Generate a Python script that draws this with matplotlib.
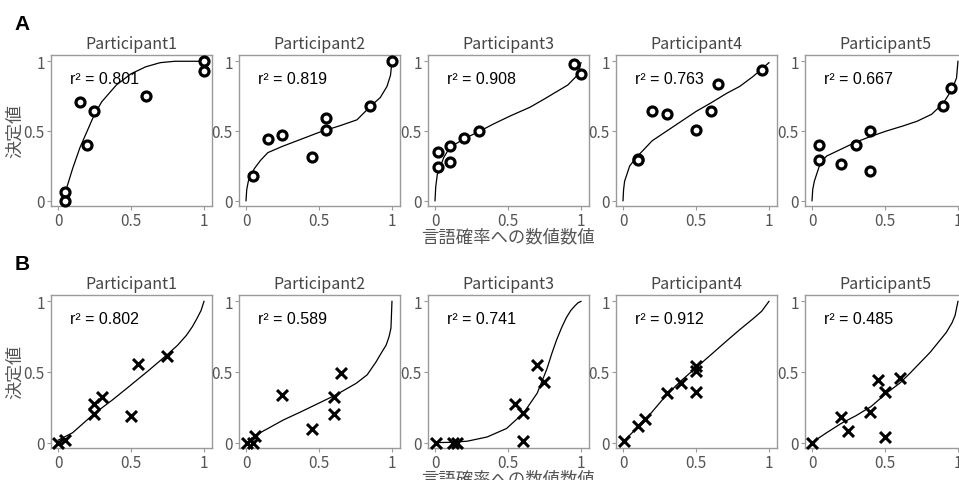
import matplotlib
matplotlib.use("Agg")
import matplotlib.pyplot as plt

plt.rcParams["font.family"] = ["Noto Sans CJK JP", "DejaVu Sans"]

participants = ["Participant1", "Participant2", "Participant3", "Participant4", "Participant5"]

# row A: open circles
a_x = [
    [0.05, 0.05, 0.15, 0.25, 0.2, 0.6, 1.0, 1.0],
    [0.05, 0.15, 0.25, 0.45, 0.55, 0.55, 0.85, 1.0],
    [0.02, 0.02, 0.1, 0.1, 0.2, 0.3, 0.95, 1.0],
    [0.1, 0.1, 0.2, 0.3, 0.5, 0.6, 0.65, 0.95],
    [0.05, 0.05, 0.2, 0.3, 0.4, 0.4, 0.9, 0.95],
]
a_y = [
    [0.06, 0.0, 0.71, 0.64, 0.40, 0.75, 1.0, 0.93],
    [0.18, 0.44, 0.47, 0.31, 0.59, 0.51, 0.68, 1.0],
    [0.35, 0.24, 0.39, 0.28, 0.45, 0.50, 0.98, 0.91],
    [0.30, 0.29, 0.64, 0.62, 0.51, 0.64, 0.84, 0.94],
    [0.40, 0.29, 0.26, 0.40, 0.50, 0.21, 0.68, 0.81],
]
a_r2 = ["0.801", "0.819", "0.908", "0.763", "0.667"]

# fitted curves, row A
a_cx = [
    [0.03, 0.05, 0.1, 0.15, 0.2, 0.25, 0.3, 0.4, 0.5, 0.6, 0.7, 0.8, 0.9, 1.0],
    [0.0, 0.005, 0.016, 0.057, 0.1, 0.15, 0.25, 0.35, 0.5, 0.65, 0.76, 0.856, 0.92, 0.966, 0.99, 1.0],
    [0.0, 0.005, 0.016, 0.06, 0.1, 0.2, 0.3, 0.4, 0.52, 0.65, 0.75, 0.91, 0.98, 1.0],
    [0.0, 0.004, 0.011, 0.046, 0.1, 0.2, 0.3, 0.4, 0.5, 0.6, 0.71, 0.8, 0.89, 1.0],
    [0.0, 0.005, 0.016, 0.057, 0.1, 0.2, 0.3, 0.4, 0.51, 0.62, 0.72, 0.82, 0.9, 0.96, 0.99, 1.0],
]
a_cy = [
    [0.0, 0.06, 0.23, 0.38, 0.50, 0.62, 0.71, 0.83, 0.91, 0.96, 0.99, 1.0, 1.0, 1.0],
    [0.0, 0.08, 0.14, 0.23, 0.29, 0.345, 0.39, 0.43, 0.49, 0.54, 0.58, 0.68, 0.74, 0.82, 0.9, 1.0],
    [0.0, 0.1, 0.19, 0.31, 0.38, 0.445, 0.495, 0.55, 0.61, 0.67, 0.73, 0.83, 0.905, 0.99],
    [0.0, 0.08, 0.14, 0.25, 0.32, 0.43, 0.5, 0.57, 0.64, 0.70, 0.77, 0.82, 0.89, 0.99],
    [0.0, 0.08, 0.14, 0.27, 0.32, 0.37, 0.42, 0.46, 0.5, 0.535, 0.57, 0.62, 0.70, 0.80, 0.88, 1.0],
]

# row B: crosses
b_x = [
    [0.0, 0.05, 0.25, 0.25, 0.3, 0.5, 0.55, 0.75],
    [0.01, 0.05, 0.06, 0.25, 0.45, 0.6, 0.6, 0.65],
    [0.01, 0.12, 0.15, 0.6, 0.55, 0.6, 0.7, 0.75],
    [0.01, 0.1, 0.15, 0.3, 0.4, 0.5, 0.5, 0.5],
    [0.0, 0.2, 0.25, 0.4, 0.45, 0.5, 0.6, 0.5],
]
b_y = [
    [0.0, 0.02, 0.27, 0.20, 0.32, 0.19, 0.56, 0.61],
    [0.0, 0.0, 0.05, 0.34, 0.10, 0.20, 0.32, 0.49],
    [0.0, 0.0, 0.0, 0.01, 0.27, 0.21, 0.55, 0.43],
    [0.01, 0.12, 0.17, 0.35, 0.42, 0.54, 0.51, 0.36],
    [0.0, 0.18, 0.08, 0.22, 0.44, 0.36, 0.46, 0.04],
]
b_r2 = ["0.802", "0.589", "0.741", "0.912", "0.485"]

b_cx = [
    [0.0, 0.1, 0.25, 0.37, 0.49, 0.62, 0.745, 0.82, 0.88, 0.92, 0.95, 0.98, 1.0],
    [0.016, 0.06, 0.15, 0.255, 0.38, 0.5, 0.62, 0.755, 0.83, 0.89, 0.93, 0.96, 0.98, 0.993, 1.0],
    [0.0, 0.1, 0.22, 0.357, 0.49, 0.607, 0.70, 0.766, 0.8, 0.834, 0.87, 0.9, 0.93, 0.96, 0.98, 1.0],
    [0.011, 0.16, 0.3, 0.4, 0.5, 0.6, 0.71, 0.8, 0.89, 0.95, 1.0],
    [0.023, 0.1, 0.2, 0.3, 0.404, 0.51, 0.6, 0.67, 0.81, 0.92, 0.96, 0.98, 1.0],
]
b_cy = [
    [0.017, 0.07, 0.207, 0.30, 0.40, 0.51, 0.62, 0.69, 0.76, 0.82, 0.875, 0.935, 1.0],
    [0.0, 0.05, 0.1, 0.16, 0.22, 0.28, 0.34, 0.42, 0.48, 0.57, 0.64, 0.69, 0.75, 0.81, 1.0],
    [0.0, 0.002, 0.01, 0.04, 0.10, 0.21, 0.35, 0.52, 0.63, 0.73, 0.82, 0.885, 0.935, 0.97, 0.99, 1.0],
    [0.017, 0.17, 0.34, 0.44, 0.53, 0.62, 0.72, 0.80, 0.876, 0.93, 1.0],
    [0.017, 0.07, 0.136, 0.19, 0.255, 0.35, 0.42, 0.49, 0.64, 0.78, 0.85, 0.9, 1.0],
]

W, H = 959, 481
fig = plt.figure(figsize=(W / 100, H / 100), dpi=100)

lefts = [51, 239, 428, 616, 805]
axw = 161
rows = [(56, 207), (296, 449)]

grey = "#555555"
frame = "#9a9a9a"


def setup(ax, title, r2):
    ax.set_xlim(-0.048, 1.055)
    ax.set_ylim(-0.038, 1.045)
    ax.set_xticks([0, 0.5, 1])
    ax.set_xticklabels(["0", "0.5", "1"])
    ax.set_yticks([0, 0.5, 1])
    ax.set_yticklabels(["0", "0.5", "1"])
    ax.tick_params(colors=frame, labelcolor=grey, labelsize=11, length=3, width=0.8, pad=1.5)
    for s in ax.spines.values():
        s.set_color(frame)
        s.set_linewidth(1.0)
    ax.set_title(title, fontsize=11.5, color="#444444", pad=5)
    ax.text(0.08, 0.88, "r² = " + r2, fontsize=11.5, color="black",
            family=["Liberation Sans"], va="center", ha="left")


for row, (top, bot) in enumerate(rows):
    for i in range(5):
        ax = fig.add_axes([lefts[i] / W, 1 - bot / H, axw / W, (bot - top) / H])
        if row == 0:
            ax.plot(a_cx[i], a_cy[i], color="black", lw=0.9, zorder=2)
            ax.scatter(a_x[i], a_y[i], s=42, facecolors="white", edgecolors="black",
                       linewidths=2.3, zorder=3, clip_on=False)
            setup(ax, participants[i], a_r2[i])
        else:
            ax.plot(b_cx[i], b_cy[i], color="black", lw=0.9, zorder=2)
            ax.scatter(b_x[i], b_y[i], s=62, marker="x", color="black",
                       linewidths=2.2, zorder=3, clip_on=False)
            setup(ax, participants[i], b_r2[i])
    fig.text(15 / W, 1 - (top + bot) / 2 / H, "決定値", fontsize=13, color=grey,
             rotation=90, ha="center", va="center")

fig.text(508 / W, 1 - 237 / H, "言語確率への数値数値", fontsize=12.5, color=grey,
         ha="center", va="center")
fig.text(508 / W, 1 - 479 / H, "言語確率への数値数値", fontsize=12.5, color=grey,
         ha="center", va="center")
fig.text(22 / W, 1 - 25 / H, "A", fontsize=15, fontweight="bold", ha="center", va="center",
         family=["Liberation Sans"])
fig.text(22 / W, 1 - 265 / H, "B", fontsize=15, fontweight="bold", ha="center", va="center",
         family=["Liberation Sans"])

fig.savefig("out.png", dpi=100)
